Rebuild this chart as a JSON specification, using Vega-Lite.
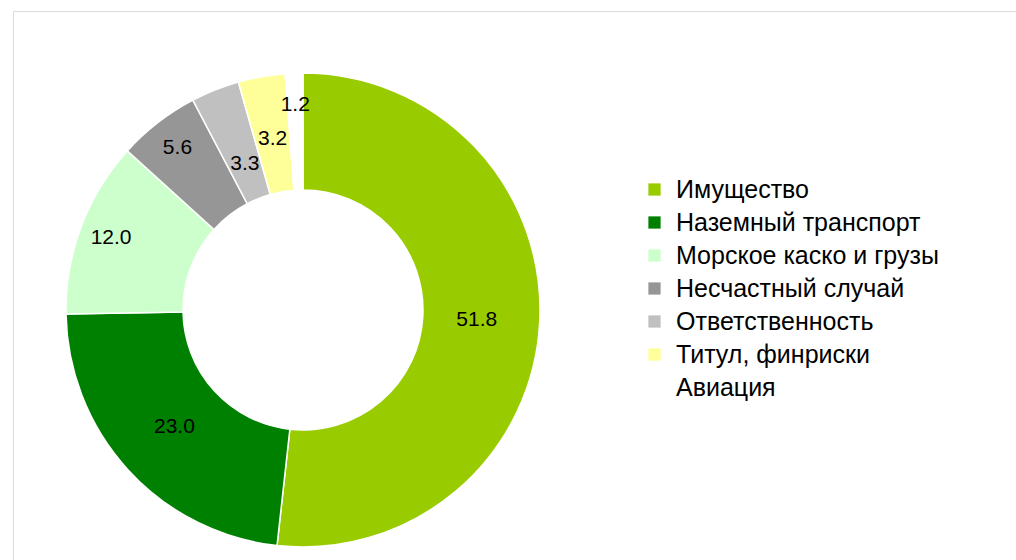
{
  "$schema": "https://vega.github.io/schema/vega-lite/v6.json",
  "width": 1010,
  "height": 560,
  "padding": {"left": 13, "top": 11, "right": 0, "bottom": 0},
  "background": "white",
  "view": {"stroke": "#dcdcdc", "strokeWidth": 1},
  "config": {"view": {"stroke": "#dcdcdc", "strokeWidth": 1}, "font": "Liberation Sans"},
  "data": {
    "values": [
      {"cat": "Имущество", "value": 51.8, "ord": 1},
      {"cat": "Наземный транспорт", "value": 23.0, "ord": 2},
      {"cat": "Морское каско и грузы", "value": 12.0, "ord": 3},
      {"cat": "Несчастный случай", "value": 5.6, "ord": 4},
      {"cat": "Ответственность", "value": 3.3, "ord": 5},
      {"cat": "Титул, финриски", "value": 3.2, "ord": 6},
      {"cat": "Авиация", "value": 1.2, "ord": 7}
    ]
  },
  "encoding": {
    "theta": {"field": "value", "type": "quantitative", "stack": true},
    "order": {"field": "ord", "type": "quantitative"}
  },
  "layer": [
    {
      "mark": {"type": "arc", "innerRadius": 120, "outerRadius": 237, "x": 290, "y": 299, "stroke": "white", "strokeWidth": 1.5},
      "encoding": {
        "color": {
          "field": "cat",
          "type": "nominal",
          "sort": ["Имущество", "Наземный транспорт", "Морское каско и грузы", "Несчастный случай", "Ответственность", "Титул, финриски", "Авиация"],
          "scale": {
            "domain": ["Имущество", "Наземный транспорт", "Морское каско и грузы", "Несчастный случай", "Ответственность", "Титул, финриски", "Авиация"],
            "range": ["#99cc00", "#008000", "#ccffcc", "#969696", "#c0c0c0", "#ffff99", "#ffffff"]
          },
          "legend": {
            "title": null,
            "orient": "none",
            "legendX": 629,
            "legendY": 166,
            "symbolType": "square",
            "symbolSize": 150,
            "symbolStrokeWidth": 0,
            "labelFontSize": 25,
            "labelFont": "Liberation Sans",
            "labelColor": "#000000",
            "rowPadding": 7,
            "labelOffset": 9,
            "labelLimit": 400
          }
        }
      }
    },
    {
      "mark": {"type": "text", "radius": 174, "x": 290, "y": 299, "fontSize": 21, "font": "Liberation Sans", "color": "#000000"},
      "encoding": {
        "text": {"condition": {"test": "datum.ord == 1 || datum.ord == 2 || datum.ord == 6", "field": "value", "type": "quantitative", "format": ".1f"}, "value": ""}
      }
    },
    {
      "mark": {"type": "text", "radius": 205, "x": 290, "y": 299, "fontSize": 21, "font": "Liberation Sans", "color": "#000000"},
      "encoding": {
        "text": {"condition": {"test": "datum.ord == 3 || datum.ord == 4 || datum.ord == 7", "field": "value", "type": "quantitative", "format": ".1f"}, "value": ""}
      }
    },
    {
      "mark": {"type": "text", "radius": 157, "x": 290, "y": 299, "fontSize": 21, "font": "Liberation Sans", "color": "#000000"},
      "encoding": {
        "text": {"condition": {"test": "datum.ord == 5", "field": "value", "type": "quantitative", "format": ".1f"}, "value": ""}
      }
    }
  ]
}
